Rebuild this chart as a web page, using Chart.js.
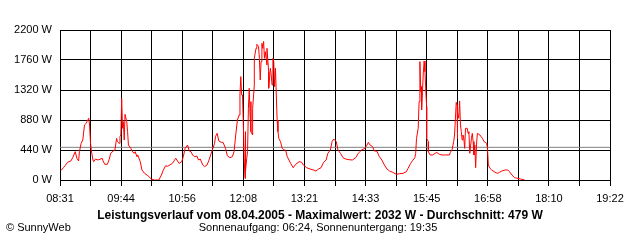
<!DOCTYPE html>
<html>
<head>
<meta charset="utf-8">
<script src="https://cdn.jsdelivr.net/npm/chart.js@4/dist/chart.umd.min.js"></script>
<style>
  html, body { margin: 0; padding: 0; background: #ffffff; }
  #wrap { position: relative; width: 640px; height: 240px; }
  canvas { display: block; }
</style>
</head>
<body>
<div id="wrap"><canvas id="c" width="640" height="240"></canvas></div>
<script>
// Time labels shown on the x axis (every second grid line)
const timeLabels = ["08:31", "09:44", "10:56", "12:08", "13:21", "14:33", "15:45", "16:58", "18:10", "19:22"];
// Minutes after 08:31 of each sample
const sampleMinutes = [
  1,4,6,9,13,15,18,20,22,23,
  25,27,29,31,32,34,35,36,37,39,
  40,42,45,50,51,53,56,58,60,63,
  65,67,68,70,71,72,73,74,75,76,
  77,79,80,81,84,85,88,89,91,92,
  95,97,100,104,108,112,117,120,122,125,
  127,130,133,135,137,139,141,144,146,148,
  151,153,155,157,159,162,164,166,169,171,
  174,176,179,181,183,184,186,188,191,193,
  196,198,201,204,206,208,210,212,213,214,
  215,216,217,218,219,219,220,221,222,223,
  224,225,226,226,228,228,230,230,232,233,
  235,236,237,238,239,240,241,242,243,245,
  245,247,247,249,250,251,252,253,254,255,
  257,258,259,261,263,265,267,269,271,273,
  276,279,283,286,288,292,296,300,303,306,
  309,312,315,317,320,322,324,327,329,332,
  335,338,342,346,350,353,357,361,363,365,
  367,370,372,375,378,381,384,387,390,394,
  398,402,406,410,412,415,417,420,421,422,
  424,425,426,427,428,428,429,430,431,432,
  433,434,434,436,436,438,441,444,446,449,
  452,456,461,462,464,466,467,469,470,470,
  471,472,473,474,475,476,477,478,479,480,
  482,483,484,485,487,488,489,490,491,492,
  493,494,497,500,502,505,506,507,509,511,
  515,518,520,523,527,530,532,535,538,542,
  545,550
];
// Power in W for each sample
const powerWatts = [
  137,180,210,260,280,327,415,318,280,415,
  538,587,807,831,856,905,807,562,440,293,
  269,308,293,318,280,230,230,293,391,425,
  440,611,562,538,636,660,1198,758,856,587,
  963,856,709,513,464,425,391,415,342,367,
  269,147,98,64,15,0,0,73,137,210,
  200,220,244,280,318,280,244,269,342,464,
  513,425,415,367,342,352,293,308,220,196,
  220,280,391,464,538,636,684,572,552,552,
  464,357,327,342,415,660,880,953,1247,1516,
  1247,1247,807,318,24,709,122,318,415,1051,
  1345,953,1149,709,660,1051,1393,1785,1931,1990,
  1960,1785,1467,1736,2005,1931,2032,1785,1882,1687,
  1931,1589,1345,1638,1540,1393,1785,1736,1369,1638,
  880,709,611,562,464,440,440,342,293,244,
  180,230,269,260,220,180,161,147,132,161,
  180,260,293,391,440,562,601,562,440,391,
  327,308,298,293,327,391,440,464,504,552,
  513,489,425,425,342,293,220,161,132,112,
  83,93,98,122,171,244,280,327,391,611,
  758,1149,1736,1296,1369,1027,1296,1565,1745,1589,
  1296,1075,611,562,415,367,367,391,405,376,
  367,367,367,405,440,562,660,1139,1100,611,
  1003,905,1159,807,709,587,660,611,464,758,
  758,684,709,391,611,684,562,367,513,180,
  513,684,660,611,562,538,464,220,171,147,
  112,98,112,132,147,147,122,73,34,24,
  15,0
];
const averageWatts = 479;
const maxWatts = 2032;
const spanMinutes = 651;      // 08:31 .. 19:22
const gridDivisions = 18;
const yMax = 2200;
const yStep = 440;

const titleText = "Leistungsverlauf vom 08.04.2005 - Maximalwert: " + maxWatts + " W - Durchschnitt: " + averageWatts + " W";
const subtitleText = "Sonnenaufgang: 06:24, Sonnenuntergang: 19:35";
const creditText = "\u00A9 SunnyWeb";

const FONT = '"Liberation Sans", Arial, sans-serif';

const linePoints = sampleMinutes.map((m, i) => ({ x: m, y: powerWatts[i] }));
const avgPoints = [{ x: 0, y: averageWatts }, { x: spanMinutes, y: averageWatts }];

const textPlugin = {
  id: 'texts',
  afterDraw(chart) {
    const ctx = chart.ctx;
    ctx.save();
    ctx.fillStyle = '#000';
    ctx.textBaseline = 'middle';
    ctx.textAlign = 'center';
    ctx.font = 'bold 12px ' + FONT;
    ctx.fillText(titleText, 320, 216);
    ctx.font = '11px ' + FONT;
    ctx.fillText(subtitleText, 318, 228);
    ctx.textAlign = 'left';
    ctx.fillText(creditText, 6, 228);
    ctx.restore();
  }
};

new Chart(document.getElementById('c'), {
  type: 'line',
  data: {
    datasets: [
      {
        data: linePoints,
        borderColor: '#ff0000',
        borderWidth: 1,
        pointRadius: 0,
        tension: 0,
        fill: false,
        order: 1
      },
      {
        data: avgPoints,
        borderColor: '#808080',
        borderWidth: 1,
        pointRadius: 0,
        tension: 0,
        fill: false,
        order: 2
      }
    ]
  },
  options: {
    responsive: false,
    animation: false,
    devicePixelRatio: 1,
    layout: { padding: { left: 0, right: 30, top: 30, bottom: 0 } },
    plugins: {
      legend: { display: false },
      tooltip: { enabled: false },
      title: { display: false }
    },
    scales: {
      x: {
        type: 'linear',
        min: 0,
        max: spanMinutes,
        afterBuildTicks(scale) {
          const t = [];
          for (let i = 0; i <= gridDivisions; i++) t.push({ value: i * spanMinutes / gridDivisions });
          scale.ticks = t;
        },
        afterFit(scale) { scale.height = 60; },
        ticks: {
          autoSkip: false,
          maxRotation: 0,
          minRotation: 0,
          color: '#000',
          font: { family: FONT, size: 11 },
          padding: 6,
          callback(value, index) {
            return index % 2 === 0 ? timeLabels[index / 2] : '';
          }
        },
        grid: {
          color: '#000',
          lineWidth: 1,
          drawTicks: true,
          tickLength: 6,
          tickColor: '#000'
        },
        border: { display: true, color: '#000', width: 1 }
      },
      y: {
        min: 0,
        max: yMax,
        afterFit(scale) { scale.width = 60; },
        ticks: {
          stepSize: yStep,
          color: '#000',
          font: { family: FONT, size: 11 },
          padding: 8,
          callback(value) { return value + ' W'; }
        },
        grid: {
          color: '#000',
          lineWidth: 1,
          drawTicks: false
        },
        border: { display: true, color: '#000', width: 1 }
      }
    }
  },
  plugins: [textPlugin]
});
</script>
</body>
</html>
